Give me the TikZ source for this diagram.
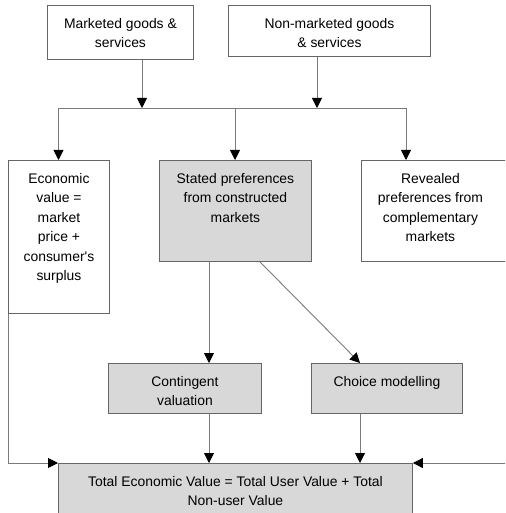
\documentclass[tikz,border=0pt]{standalone}
\usepackage{fontspec}
\setmainfont{Liberation Sans}
\usetikzlibrary{arrows.meta}
\definecolor{boxline}{HTML}{666666}
\definecolor{conn}{HTML}{7A7A7A}
\definecolor{shade}{HTML}{D8D8D8}
\newcommand{\bxt}[3]{\parbox[c][#2][t]{#1}{\vspace*{9pt}\centering\strut #3\par}}
\tikzset{
  box/.style={draw=boxline, line width=0.9pt, inner sep=0pt, anchor=north west,
    font=\fontsize{13.9}{19.5}\selectfont},
  greybox/.style={box, fill=shade},
  ln/.style={draw=conn, line width=0.9pt},
  arr/.style={ln, -{Triangle[width=10pt,length=10pt,color=black]}}
}
\begin{document}
\begin{tikzpicture}[x=1pt,y=-1pt]
\clip (0,0) rectangle (505,513);
\fill[white] (0,0) rectangle (505,513);
% boxes
\node[box] (mkt) at (47,5) {\bxt{146pt}{54pt}{Marketed goods \&\\ services}};
\node[box] (nmkt) at (228,5) {\bxt{202pt}{51pt}{Non-marketed goods\\ \& services}};
\node[box] (econ) at (8,160) {\bxt{101pt}{153pt}{Economic\\ value =\\ market\\ price +\\ consumer\textquotesingle s\\ surplus}};
\node[greybox] (sp) at (159,160) {\bxt{152pt}{101pt}{Stated preferences\\ from constructed\\ markets}};
\node[box] (rev) at (361,160) {\bxt{138pt}{101pt}{Revealed\\ preferences from\\ complementary\\ markets}\hspace*{20pt}};
\node[greybox] (cv) at (108,363) {\bxt{153pt}{50pt}{Contingent\\ valuation}};
\node[greybox] (cm) at (311,363) {\bxt{151pt}{50pt}{Choice modelling}};
\node[greybox] (tev) at (58,463) {\bxt{354pt}{62pt}{Total Economic Value = Total User Value + Total\\ Non-user Value}};
% helper coordinates
\coordinate (b1) at (142,108);
\coordinate (b2) at (317,108);
\coordinate (bl) at (58.5,108);
\coordinate (bc) at (235,108);
\coordinate (br) at (406,108);
\coordinate (c1) at (209,0);
\coordinate (d1) at (260,0);
\coordinate (d2) at (360,0);
\coordinate (re) at (520,463);
% connectors
\draw[arr] (mkt.south -| b1) -- (b1);
\draw[arr] (nmkt.south -| b2) -- (b2);
\draw[ln] (bl) -- (br);
\draw[arr] (bl) -- (econ.north -| bl);
\draw[arr] (bc) -- (sp.north -| bc);
\draw[arr] (br) -- (rev.north -| br);
\draw[arr] (sp.south -| c1) -- (cv.north -| c1);
\draw[arr] (sp.south -| d1) -- (cm.north -| d2);
\draw[arr] (cv.south -| c1) -- (tev.north -| c1);
\draw[arr] (cm.south -| d2) -- (tev.north -| d2);
\draw[arr] (econ.south west) |- (tev.north west);
\draw[arr] (re) -- (tev.north east);
\end{tikzpicture}
\end{document}
